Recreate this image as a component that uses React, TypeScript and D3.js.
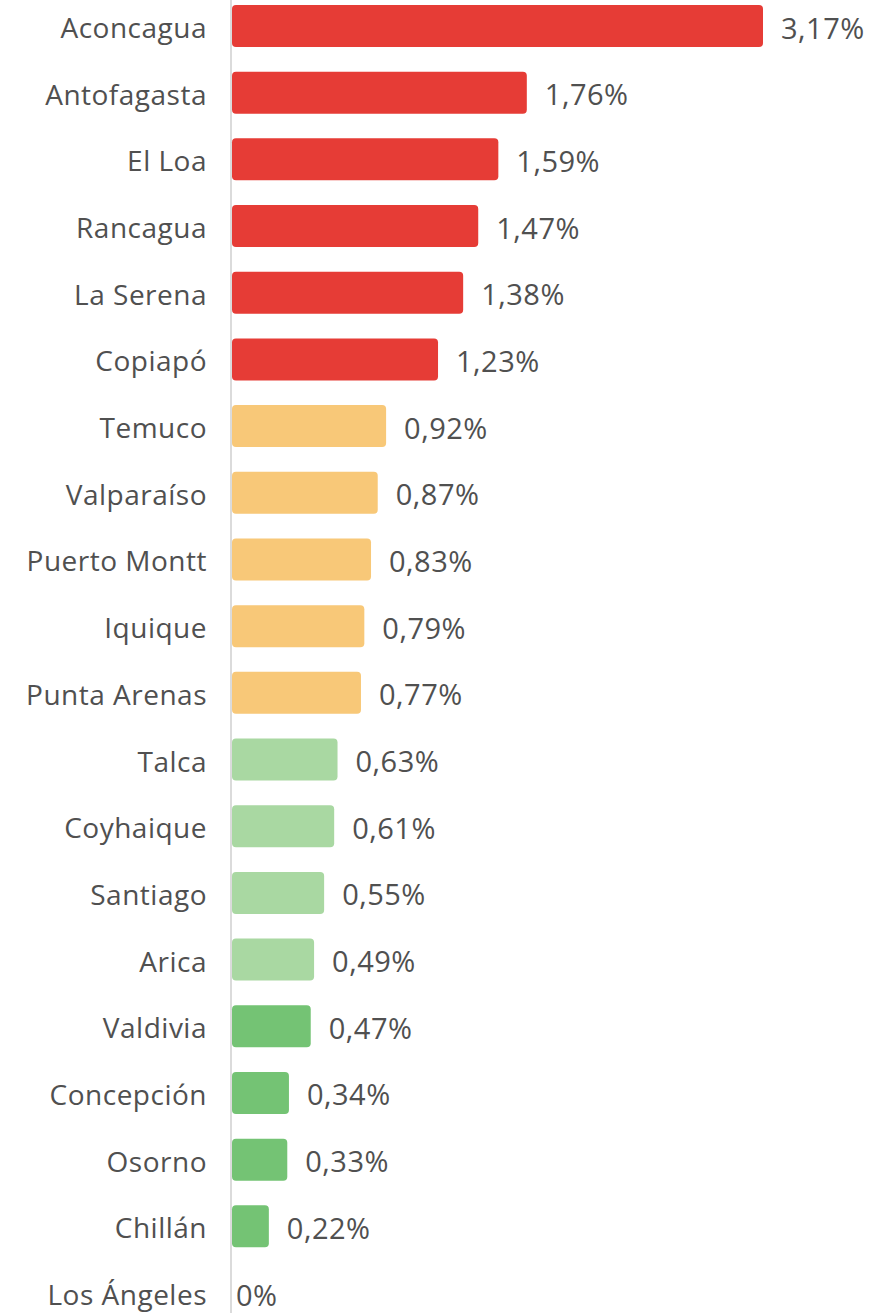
import React from "react";
import * as d3 from "d3";

const categories = [
  "Aconcagua", "Antofagasta", "El Loa", "Rancagua", "La Serena", "Copiapó",
  "Temuco", "Valparaíso", "Puerto Montt", "Iquique", "Punta Arenas",
  "Talca", "Coyhaique", "Santiago", "Arica",
  "Valdivia", "Concepción", "Osorno", "Chillán", "Los Ángeles",
];
const values = [
  3.17, 1.76, 1.59, 1.47, 1.38, 1.23,
  0.92, 0.87, 0.83, 0.79, 0.77,
  0.63, 0.61, 0.55, 0.49,
  0.47, 0.34, 0.33, 0.22, 0,
];
const groups = [
  "high", "high", "high", "high", "high", "high",
  "mid", "mid", "mid", "mid", "mid",
  "low", "low", "low", "low",
  "lowest", "lowest", "lowest", "lowest", "lowest",
];
const groupColors: Record<string, string> = {
  high: "#e63c36",
  mid: "#f8c878",
  low: "#a9d8a2",
  lowest: "#74c374",
};

const W = 884;
const H = 1313;
const AXIS_X = 231;
const BAR_H = 42;
const FONT = "'Open Sans', 'Noto Sans', sans-serif";

export default function App() {
  const x = d3.scaleLinear().domain([0, 3.17]).range([AXIS_X + 1, 763]);
  const y = d3.scalePoint<string>().domain(categories).range([26, 1293]);
  const fmt = (v: number) => (v === 0 ? "0%" : d3.format(".2f")(v).replace(".", ",") + "%");

  return (
    <svg
      width={W}
      height={H}
      style={{ position: "absolute", left: 0, top: 0, background: "#fff" }}
      fontFamily={FONT}
    >
      <line x1={AXIS_X} x2={AXIS_X} y1={0} y2={H} stroke="#cfcfcf" strokeWidth={1.5} />
      {categories.map((c, i) => {
        const cy = y(c)!;
        const v = values[i];
        const x1 = x(v);
        return (
          <g key={c}>
            <text
              x={207}
              y={cy + 1}
              textAnchor="end"
              dominantBaseline="central"
              fontSize={28}
              letterSpacing={0.5}
              fill="#505050"
            >
              {c}
            </text>
            {v > 0 && (
              <rect
                x={x(0)}
                y={cy - BAR_H / 2}
                width={x1 - x(0)}
                height={BAR_H}
                rx={4}
                fill={groupColors[groups[i]]}
              />
            )}
            <text
              x={v > 0 ? x1 + 18 : x1 + 4}
              y={cy + 1}
              dominantBaseline="central"
              fontSize={29}
              letterSpacing={0.5}
              fill="#505050"
            >
              {fmt(v)}
            </text>
          </g>
        );
      })}
    </svg>
  );
}
